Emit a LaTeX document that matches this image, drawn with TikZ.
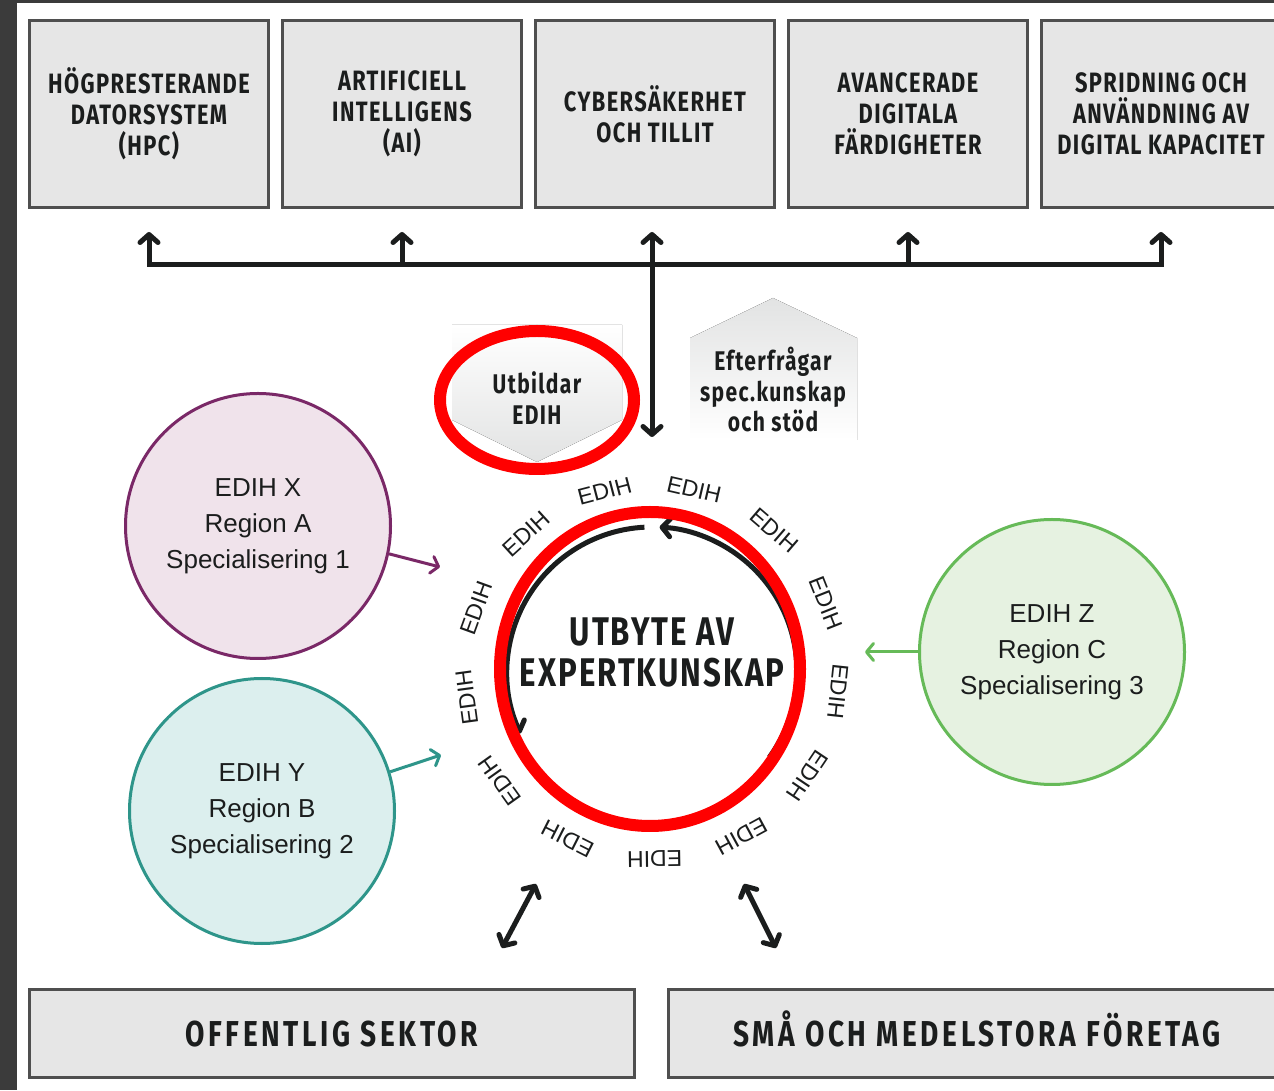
\documentclass[tikz,border=0pt]{standalone}
\usepackage{fontspec}
\usepackage{tikz}
\usetikzlibrary{arrows.meta,positioning}
\newfontfamily\condfont{Fira Sans}[FakeStretch=0.78,LetterSpace=5]
\newfontfamily\widecondfont{Fira Sans}[FakeStretch=0.78,LetterSpace=10]
\newfontfamily\plainfont{Liberation Sans}
\definecolor{frame}{HTML}{3B3B3B}
\definecolor{boxfill}{HTML}{E6E6E6}
\definecolor{boxline}{HTML}{4F4F4F}
\definecolor{ink}{HTML}{1B1D1D}
\definecolor{pent}{HTML}{E2E3E3}
\definecolor{purpx}{HTML}{7A2867}
\definecolor{pinkx}{HTML}{F0E3EB}
\definecolor{tealy}{HTML}{2E958A}
\definecolor{ltealy}{HTML}{DCEFEE}
\definecolor{greenz}{HTML}{66BA58}
\definecolor{lgreenz}{HTML}{E6F2E1}

\begin{document}
\begin{tikzpicture}
  [x=1pt,y=1pt,
   barb/.tip={Straight Barb[length=8pt,width=18pt,round]},
   thin barb/.tip={Straight Barb[length=7pt,width=17pt,round]},
   area/.style={draw=boxline,line width=3pt,fill=boxfill,text=ink,align=center,inner sep=0pt},
   topbox/.style={area,minimum width=239pt,minimum height=187pt,
     font=\condfont\bfseries\fontsize{28}{31}\selectfont},
   lowbox/.style={area,minimum height=88pt,text height=25pt,text depth=0pt,
     font=\widecondfont\bfseries\fontsize{36}{38}\selectfont},
   bus/.style={draw=ink,line width=5pt},
   region/.style={circle,line width=3pt,minimum size=265pt,align=center,text=ink,
     font=\plainfont\fontsize{26}{36}\selectfont},
   feed/.style={line width=3pt,arrows={-thin barb}},
   tag/.style={align=center,text=ink,font=\condfont\bfseries\fontsize{27}{30.5}\selectfont},
   ringlbl/.style={text=ink,inner sep=0pt,font=\plainfont\fontsize{23}{23}\selectfont},
   hilite/.style={draw=red,line width=12pt}]

  % frame
  \fill[frame] (0,0) rectangle (1274,1090);
  \fill[white] (17,0) rectangle (1274,1087);
  \clip (0,0) rectangle (1274,1090);

  % the five areas on top
  \node[topbox] (hpc) at (149,976) {HÖGPRESTERANDE\\DATORSYSTEM\\(HPC)};
  \node[topbox,right=11pt of hpc] (ai) {ARTIFICIELL\\INTELLIGENS\\(AI)};
  \node[topbox,right=11pt of ai] (cyb) {CYBERSÄKERHET\\OCH TILLIT};
  \node[topbox,right=11pt of cyb] (av) {AVANCERADE\\DIGITALA\\FÄRDIGHETER};
  \node[topbox,right=11pt of av] (spr) {SPRIDNING OCH\\ANVÄNDNING AV\\DIGITAL KAPACITET};

  % pentagons
  \fill[top color=white,middle color=pent,bottom color=pent]
    (452,765) -- (622,765) -- (622,670) -- (537,628) -- (452,670) -- cycle;
  \fill[top color=pent,middle color=pent,bottom color=white]
    (773,792) -- (857,752) -- (857,650) -- (690,650) -- (690,752) -- cycle;
  \node[tag] (utb) at (537,692) {Utbildar\\EDIH};
  \node[tag] (eft) at (773,700) {Efterfrågar\\spec.kunskap\\och stöd};

  % bus
  \draw[bus,arrows={barb-barb}] ([yshift=-23pt]hpc.south) -- ([yshift=-56pt]hpc.south)
    -| ([yshift=-23pt]spr.south);
  \foreach \b in {ai,av}
    \draw[bus,arrows={barb-}] ([yshift=-23pt]\b.south) -- ([yshift=-56pt]\b.south);
  \coordinate (hub) at (652,418);
  \coordinate (down) at (652,653);
  \draw[bus,arrows={barb-barb}] ([xshift=-3pt,yshift=-23pt]cyb.south) -- (down);

  % regions
  \node[region,draw=purpx,fill=pinkx] (edx) at (258,564) {EDIH X\\Region A\\Specialisering 1};
  \node[region,draw=tealy,fill=ltealy] (edy) at (262,279) {EDIH Y\\Region B\\Specialisering 2};
  \node[region,draw=greenz,fill=lgreenz] (edz) at (1052,438) {EDIH Z\\Region C\\Specialisering 3};
  \coordinate (tipx) at (440,523);
  \coordinate (tipy) at (441,335);
  \coordinate (tipz) at (865,438);
  \draw[feed,purpx] (edx.-12) -- (tipx);
  \draw[feed,tealy] (edy.17) -- (tipy);
  \draw[feed,greenz] (edz.west) -- (tipz);

  % exchange
  \node[text=ink,align=center,font=\condfont\bfseries\fontsize{40}{41}\selectfont]
    (xchg) at ([yshift=20pt]hub) {UTBYTE AV\\EXPERTKUNSKAP};
  \draw[bus,arrows={-barb}] ([shift={(93:145pt)}]hub) arc[start angle=93,end angle=205,radius=145pt];
  \draw[bus,arrows={-barb}] ([shift={(-36:145pt)}]hub) arc[start angle=-36,end angle=87,radius=145pt];
  \foreach \k [evaluate=\k as \ang using 77+27.69*\k] in {0,...,12}
    \node[ringlbl,rotate=\ang-90] (r\k) at ([shift={(\ang:187pt)}]hub) {EDIH};

  % bottom
  \node[lowbox,minimum width=605pt] (pub) at (332,56.5) {OFFENTLIG SEKTOR};
  \node[lowbox,minimum width=617pt,right=31pt of pub] (sme) {SMÅ OCH MEDELSTORA FÖRETAG};
  \coordinate (pa) at (536,206);
  \coordinate (pb) at (502,142);
  \coordinate (sa) at (744,206);
  \coordinate (sb) at (776,142);
  \draw[bus,arrows={barb-barb}] (pa) -- (pb);
  \draw[bus,arrows={barb-barb}] (sa) -- (sb);

  % highlights
  \draw[hilite] (537,690) ellipse [x radius=97pt,y radius=69pt];
  \draw[hilite] (650,421) ellipse [x radius=150pt,y radius=157pt];

\end{tikzpicture}
\end{document}
